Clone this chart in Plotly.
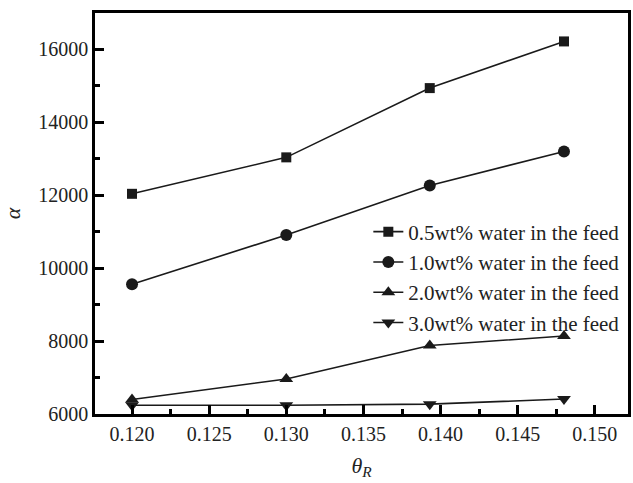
import plotly.graph_objects as go

theta_r = [0.120, 0.130, 0.1393, 0.148]
alpha_05 = [12040, 13040, 14940, 16220]
alpha_10 = [9560, 10910, 12270, 13200]
alpha_20 = [6400, 6960, 7880, 8140]
alpha_30 = [6240, 6240, 6270, 6410]

series_names = ["0.5wt% water in the feed", "1.0wt% water in the feed",
                "2.0wt% water in the feed", "3.0wt% water in the feed"]
symbols = ["square", "circle", "triangle-up", "triangle-down"]
sizes = [10, 12, 12, 12]

fig = go.Figure()
for name, ys, sym, sz in zip(series_names, [alpha_05, alpha_10, alpha_20, alpha_30], symbols, sizes):
    fig.add_trace(go.Scatter(
        x=theta_r, y=ys, name=name, mode="lines+markers",
        line=dict(color="#1a1a1a", width=1.6),
        marker=dict(symbol=sym, size=sz, color="#1a1a1a"),
    ))

font_family = "'Liberation Serif', 'Times New Roman', Times, serif"

fig.update_layout(
    width=633, height=483,
    margin=dict(l=95, r=2, t=13, b=69),
    paper_bgcolor="white", plot_bgcolor="white",
    font=dict(family=font_family, color="#222"),
    xaxis=dict(range=[0.1176, 0.15215], dtick=0.005, tickformat=".3f",
               showline=True, linecolor="black", linewidth=2.5, mirror=True,
               ticks="inside", ticklen=9, tickwidth=2.5, tickcolor="black",
               showgrid=False, zeroline=False,
               minor=dict(dtick=0.0025, ticks="inside", ticklen=5, tickwidth=2.5, tickcolor="black", showgrid=False),
               tickfont=dict(family=font_family, size=20, color="#222"),
               title=dict(text="<i>θ<sub>R</sub></i>", font=dict(family=font_family, size=22), standoff=14)),
    yaxis=dict(range=[6000, 17000], dtick=2000, tickformat="d",
               showline=True, linecolor="black", linewidth=2.5, mirror=True,
               ticks="inside", ticklen=9, tickwidth=2.5, tickcolor="black",
               showgrid=False, zeroline=False,
               minor=dict(dtick=1000, ticks="inside", ticklen=5, tickwidth=2.5, tickcolor="black", showgrid=False),
               tickfont=dict(family=font_family, size=20, color="#222"),
               title=dict(text="<i>α</i>", font=dict(family=font_family, size=22), standoff=12)),
    legend=dict(x=0.995, xanchor="right", y=0.505, yanchor="top",
                bgcolor="rgba(0,0,0,0)", font=dict(family=font_family, size=21, color="#222"),
                tracegroupgap=0),
    showlegend=True,
)

fig.write_html("out.html")
